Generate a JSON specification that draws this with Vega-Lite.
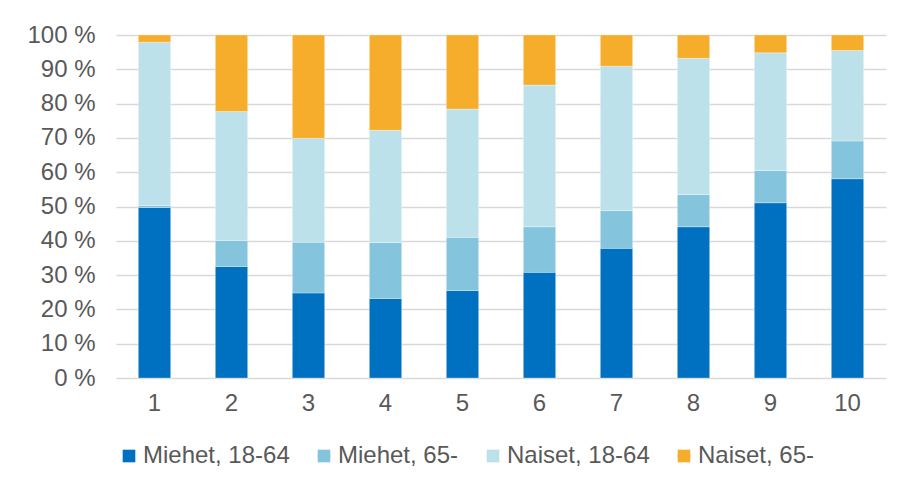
{
  "$schema": "https://vega.github.io/schema/vega-lite/v6.json",
  "width": 770,
  "height": 343,
  "autosize": {"type": "none"},
  "padding": {"left": 116, "top": 35, "right": 17, "bottom": 113},
  "background": "#ffffff",
  "data": {
    "values": [
      {"ryhma": "1", "sarja": "Miehet, 18-64", "o": 1, "osuus": 49.7},
      {"ryhma": "1", "sarja": "Miehet, 65-", "o": 2, "osuus": 0.6},
      {"ryhma": "1", "sarja": "Naiset, 18-64", "o": 3, "osuus": 47.6},
      {"ryhma": "1", "sarja": "Naiset, 65-", "o": 4, "osuus": 2.1},
      {"ryhma": "2", "sarja": "Miehet, 18-64", "o": 1, "osuus": 32.5},
      {"ryhma": "2", "sarja": "Miehet, 65-", "o": 2, "osuus": 7.6},
      {"ryhma": "2", "sarja": "Naiset, 18-64", "o": 3, "osuus": 37.6},
      {"ryhma": "2", "sarja": "Naiset, 65-", "o": 4, "osuus": 22.3},
      {"ryhma": "3", "sarja": "Miehet, 18-64", "o": 1, "osuus": 24.8},
      {"ryhma": "3", "sarja": "Miehet, 65-", "o": 2, "osuus": 14.8},
      {"ryhma": "3", "sarja": "Naiset, 18-64", "o": 3, "osuus": 30.3},
      {"ryhma": "3", "sarja": "Naiset, 65-", "o": 4, "osuus": 30.1},
      {"ryhma": "4", "sarja": "Miehet, 18-64", "o": 1, "osuus": 23.2},
      {"ryhma": "4", "sarja": "Miehet, 65-", "o": 2, "osuus": 16.3},
      {"ryhma": "4", "sarja": "Naiset, 18-64", "o": 3, "osuus": 32.7},
      {"ryhma": "4", "sarja": "Naiset, 65-", "o": 4, "osuus": 27.8},
      {"ryhma": "5", "sarja": "Miehet, 18-64", "o": 1, "osuus": 25.5},
      {"ryhma": "5", "sarja": "Miehet, 65-", "o": 2, "osuus": 15.5},
      {"ryhma": "5", "sarja": "Naiset, 18-64", "o": 3, "osuus": 37.4},
      {"ryhma": "5", "sarja": "Naiset, 65-", "o": 4, "osuus": 21.6},
      {"ryhma": "6", "sarja": "Miehet, 18-64", "o": 1, "osuus": 30.8},
      {"ryhma": "6", "sarja": "Miehet, 65-", "o": 2, "osuus": 13.3},
      {"ryhma": "6", "sarja": "Naiset, 18-64", "o": 3, "osuus": 41.3},
      {"ryhma": "6", "sarja": "Naiset, 65-", "o": 4, "osuus": 14.6},
      {"ryhma": "7", "sarja": "Miehet, 18-64", "o": 1, "osuus": 37.8},
      {"ryhma": "7", "sarja": "Miehet, 65-", "o": 2, "osuus": 11.0},
      {"ryhma": "7", "sarja": "Naiset, 18-64", "o": 3, "osuus": 42.1},
      {"ryhma": "7", "sarja": "Naiset, 65-", "o": 4, "osuus": 9.1},
      {"ryhma": "8", "sarja": "Miehet, 18-64", "o": 1, "osuus": 44.1},
      {"ryhma": "8", "sarja": "Miehet, 65-", "o": 2, "osuus": 9.4},
      {"ryhma": "8", "sarja": "Naiset, 18-64", "o": 3, "osuus": 39.7},
      {"ryhma": "8", "sarja": "Naiset, 65-", "o": 4, "osuus": 6.8},
      {"ryhma": "9", "sarja": "Miehet, 18-64", "o": 1, "osuus": 51.1},
      {"ryhma": "9", "sarja": "Miehet, 65-", "o": 2, "osuus": 9.4},
      {"ryhma": "9", "sarja": "Naiset, 18-64", "o": 3, "osuus": 34.3},
      {"ryhma": "9", "sarja": "Naiset, 65-", "o": 4, "osuus": 5.2},
      {"ryhma": "10", "sarja": "Miehet, 18-64", "o": 1, "osuus": 58.1},
      {"ryhma": "10", "sarja": "Miehet, 65-", "o": 2, "osuus": 11.0},
      {"ryhma": "10", "sarja": "Naiset, 18-64", "o": 3, "osuus": 26.4},
      {"ryhma": "10", "sarja": "Naiset, 65-", "o": 4, "osuus": 4.5}
    ]
  },
  "mark": {"type": "bar", "stroke": "#ffffff", "strokeWidth": 0.5, "strokeOpacity": 0.6},
  "encoding": {
    "x": {
      "field": "ryhma",
      "type": "ordinal",
      "sort": ["1","2","3","4","5","6","7","8","9","10"],
      "scale": {"paddingInner": 0.58, "paddingOuter": 0.29},
      "axis": {
        "title": null,
        "labelAngle": 0,
        "ticks": false,
        "domain": false,
        "labelPadding": 13,
        "labelFontSize": 24,
        "labelFont": "Liberation Sans",
        "labelColor": "#595959"
      }
    },
    "y": {
      "field": "osuus",
      "type": "quantitative",
      "stack": "normalize",
      "scale": {"domain": [0, 1], "nice": false},
      "axis": {
        "title": null,
        "values": [0, 0.1, 0.2, 0.3, 0.4, 0.5, 0.6, 0.7, 0.8, 0.9, 1],
        "labelExpr": "round(datum.value * 100) + ' %'",
        "ticks": false,
        "domain": false,
        "grid": true,
        "gridColor": "#d9d9d9",
        "gridWidth": 1.5,
        "labelPadding": 21,
        "labelFontSize": 24,
        "labelFont": "Liberation Sans",
        "labelColor": "#595959"
      }
    },
    "color": {
      "field": "sarja",
      "type": "nominal",
      "sort": ["Miehet, 18-64", "Miehet, 65-", "Naiset, 18-64", "Naiset, 65-"],
      "scale": {
        "domain": ["Miehet, 18-64", "Miehet, 65-", "Naiset, 18-64", "Naiset, 65-"],
        "range": ["#0070C0", "#84C4DD", "#BCE1EB", "#F6AD2B"]
      },
      "legend": {
        "title": null,
        "orient": "none",
        "direction": "horizontal",
        "legendX": 1,
        "legendY": 409,
        "symbolType": "square",
        "symbolSize": 160,
        "symbolStrokeWidth": 0,
        "labelFontSize": 24,
        "labelFont": "Liberation Sans",
        "labelColor": "#595959",
        "labelOffset": 2,
        "columnPadding": 22,
        "labelLimit": 300
      }
    },
    "order": {"field": "o", "type": "quantitative"}
  },
  "config": {
    "view": {"stroke": null}
  }
}
